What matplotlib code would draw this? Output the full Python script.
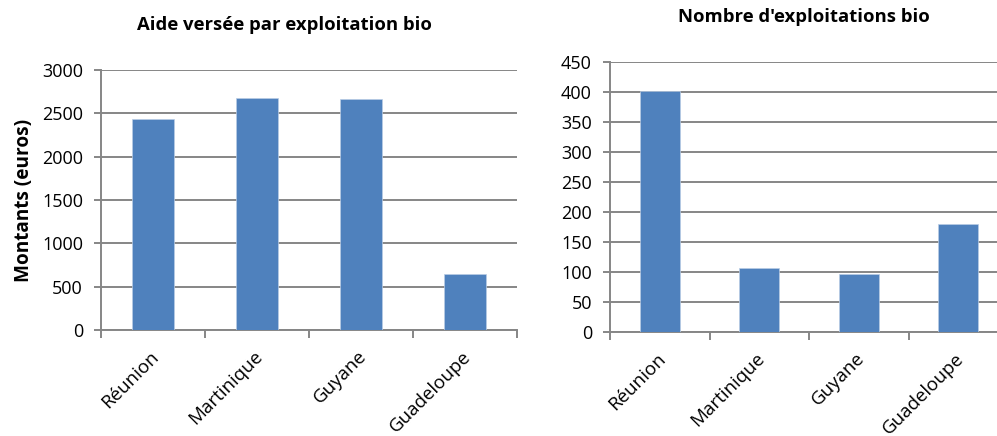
import matplotlib
matplotlib.use("Agg")
import matplotlib.pyplot as plt
import numpy as np

categories = ["Réunion", "Martinique", "Guyane", "Guadeloupe"]
aide_values = [2433, 2672, 2668, 646]
nombre_values = [401, 106, 97, 180]
aide_ticks = [0, 500, 1000, 1500, 2000, 2500, 3000]
nombre_ticks = [0, 50, 100, 150, 200, 250, 300, 350, 400, 450]

plt.rcParams['font.family'] = ['Open Sans', 'DejaVu Sans']
BAR = '#4F81BD'
GRID = '#868686'

fig = plt.figure(figsize=(9.97, 4.36), dpi=100)

def style(ax, values, ticks, title, title_y):
    x = np.arange(len(categories))
    ax.bar(x, values, width=0.4, color=BAR, edgecolor='#B9CDE5', linewidth=0.5, zorder=3)
    ax.set_xlim(-0.5, len(categories) - 0.5)
    ax.set_ylim(ticks[0], ticks[-1])
    ax.set_yticks(ticks)
    ax.yaxis.grid(True, color=GRID, linewidth=1.4, zorder=0)
    ax.set_axisbelow(True)
    for s in ['top', 'right']:
        ax.spines[s].set_visible(False)
    for s in ['left', 'bottom']:
        ax.spines[s].set_color(GRID)
        ax.spines[s].set_linewidth(1.4)
    ax.tick_params(axis='y', length=5, width=1.4, color=GRID, labelsize=13, pad=8, labelcolor='#000000')
    ax.set_xticks(x)
    ax.set_xticklabels([])
    ax.tick_params(axis='x', which='major', length=0)
    ax.set_xticks(np.arange(-0.5, len(categories)), minor=True)
    ax.tick_params(axis='x', which='minor', length=6, width=1.4, color=GRID, direction='out')
    for xi, lab in zip(x, categories):
        ax.annotate(lab, xy=(xi, 0), xycoords=('data', 'axes fraction'),
                    xytext=(2, -17), textcoords='offset points',
                    rotation=45, rotation_mode='anchor', ha='right', va='center',
                    fontsize=13.5, color='#000000')
    fig.text(title_y[0], title_y[1], title, ha='center', va='center',
             fontsize=13.3, fontweight='bold')

ax1 = fig.add_axes([101/997, 1 - 330/436, 416/997, 260/436])
style(ax1, aide_values, aide_ticks, "Aide versée par exploitation bio", (284/997, 1 - 25/436))
ax1.set_ylabel("Montants (euros)", fontsize=13.7, fontweight='bold', labelpad=6)

ax2 = fig.add_axes([610/997, 1 - 332/436, 398/997, 270/436])
style(ax2, nombre_values, nombre_ticks, "Nombre d'exploitations bio", (804/997, 1 - 17/436))

fig.savefig("out.png", dpi=100)
